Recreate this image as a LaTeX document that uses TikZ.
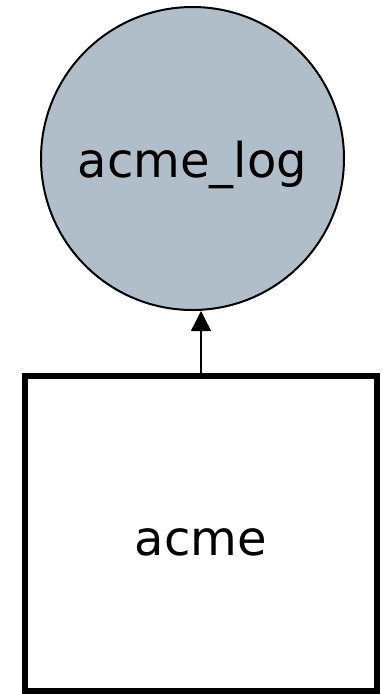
\documentclass[tikz,border=0pt]{standalone}
\usepackage{fontspec}
\setmainfont{DejaVu Sans}
\usetikzlibrary{arrows.meta}
\definecolor{logfill}{RGB}{176,190,202}
\tikzset{
  labelfont/.style={font=\fontsize{48}{58}\selectfont},
  logstore/.style={circle, draw, fill=logfill, line width=2pt, minimum size=303pt,
    inner sep=0pt, labelfont, text height=37pt, text depth=0pt},
  component/.style={rectangle, draw, line width=6pt, minimum width=352pt,
    minimum height=315pt, inner sep=0pt, labelfont, text height=43pt, text depth=0pt},
  depends/.style={line width=1.5pt, -{Triangle[length=20pt,width=20pt]}}
}
\begin{document}
\begin{tikzpicture}[x=1pt,y=-1pt]
  \useasboundingbox (0,0) rectangle (383,694);
  \node[logstore] (log) at (192.5,158.5) {acme\_log};
  \node[component] (acme) at (201,533.5) {acme};
  \draw[depends] (acme.north) -- (acme.north |- log.south);
\end{tikzpicture}
\end{document}
